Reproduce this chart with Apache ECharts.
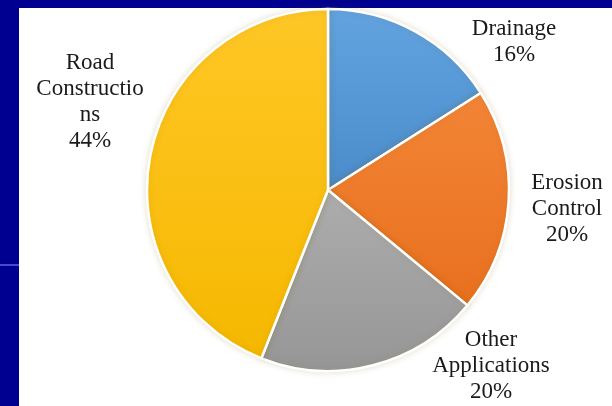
<!DOCTYPE html>
<html>
<head>
<meta charset="utf-8">
<script src="https://cdn.jsdelivr.net/npm/echarts@6/dist/echarts.min.js"></script>
<style>
html,body{margin:0;padding:0;background:#000090;}
#chart{width:612px;height:406px;}
</style>
</head>
<body>
<div id="chart"></div>
<script>
var categories = ['Drainage', 'Erosion Control', 'Other Applications', 'Road Constructions'];
var values = [16, 20, 20, 44];
var labelTexts = ['Drainage\n16%', 'Erosion\nControl\n20%', 'Other\nApplications\n20%', 'Road\nConstructio\nns\n44%'];
var colorsTop = ['#62A3E0', '#F38536', '#ADADAD', '#FFC726'];
var colorsBottom = ['#4A8BCB', '#E8701F', '#969696', '#F5B800'];
var labelPos = [[514, 42], [567, 209], [491, 366], [90, 102]];

var serifFont = 'Times New Roman, Liberation Serif, DejaVu Serif, serif';
var chart = echarts.init(document.getElementById('chart'), null, {renderer: 'canvas'});
var data = categories.map(function (c, i) {
  return {
    name: c,
    value: values[i],
    itemStyle: {
      color: new echarts.graphic.LinearGradient(0, 0, 0, 1, [
        {offset: 0, color: colorsTop[i]},
        {offset: 1, color: colorsBottom[i]}
      ])
    },
    label: {formatter: labelTexts[i], fontFamily: serifFont}
  };
});
chart.setOption({
  backgroundColor: '#000090',
  animation: false,
  textStyle: {fontFamily: serifFont},
  graphic: [
    {type: 'rect', shape: {x: 19, y: 8, width: 593, height: 398}, style: {fill: '#ffffff'}, z: -10},
    {type: 'rect', shape: {x: 0, y: 264, width: 19, height: 2}, style: {fill: '#4a4ad0'}, z: -10}
  ],
  series: [{
    type: 'pie',
    center: [328, 190],
    radius: 181,
    startAngle: 90,
    clockwise: true,
    data: data,
    itemStyle: {
      borderColor: '#ffffff',
      borderWidth: 2.5,
      shadowBlur: 6,
      shadowColor: 'rgba(120,100,0,0.18)'
    },
    label: {
      show: true,
      position: 'outside',
      fontFamily: serifFont,
      fontSize: 23,
      lineHeight: 26,
      color: '#1a1a1a',
      align: 'center',
      overflow: 'none',
      width: 200
    },
    labelLine: {show: false},
    labelLayout: function (params) {
      var p = labelPos[params.dataIndex];
      return {x: p[0], y: p[1], align: 'center', verticalAlign: 'middle'};
    },
    emphasis: {disabled: true}
  }]
});
</script>
</body>
</html>
